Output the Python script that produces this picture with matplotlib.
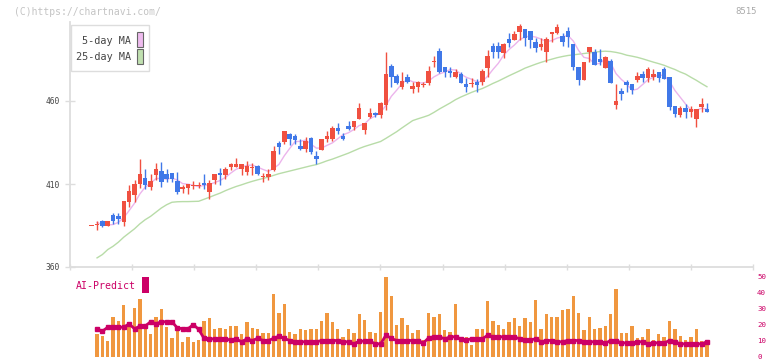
import numpy as np
import matplotlib.pyplot as plt
from matplotlib.patches import Rectangle

nan = np.nan

# daily prices (oldest first)
opens = [384.7, 385.1, 387.7, 384.9, 391.3, 390.7, 387.3, 399.3, 403.4, 409.8,
         413.4, 408.4, 415.4, 417.8, 416.0, 416.4, 411.8, 407.0, 407.4, 409.0,
         409.0, 410.4, 405.4, 412.4, 416.8, 415.4, 420.4, 420.4, 419.2, 417.4,
         419.6, 420.8, 414.4, 414.0, 418.4, 434.9, 435.5, 440.1, 438.9, 432.9,
         430.9, 437.5, 426.9, 430.5, 437.1, 437.1, 444.0, 438.9, 444.9, 444.5,
         449.3, 442.5, 450.5, 452.6, 451.8, 457.6, 481.1, 475.1, 468.6, 474.3,
         467.4, 468.6, 469.8, 471.0, 483.3, 490.3, 480.7, 478.1, 474.7, 476.3,
         470.2, 470.4, 471.6, 471.6, 480.0, 493.1, 493.1, 489.1, 497.3, 496.7,
         501.8, 503.4, 502.2, 495.4, 492.7, 489.7, 500.2, 501.2, 499.2, 502.2,
         494.3, 480.7, 472.7, 489.7, 489.3, 485.3, 480.1, 484.3, 457.6, 466.0,
         471.4, 470.2, 472.7, 476.0, 474.0, 474.5, 477.5, 479.3, 474.5, 457.0,
         451.6, 455.8, 453.6, 449.2, 456.6, 455.2]
highs = [384.7, 387.9, 388.5, 387.7, 392.3, 392.3, 400.0, 409.4, 412.4, 425.0,
         419.0, 415.8, 422.5, 423.4, 419.0, 416.4, 417.4, 409.4, 410.0, 411.8,
         411.0, 415.8, 412.4, 416.0, 419.5, 420.0, 422.8, 425.8, 422.0, 423.9,
         422.5, 421.4, 416.8, 419.0, 432.9, 436.1, 441.9, 440.9, 440.1, 436.9,
         438.1, 438.1, 429.9, 437.1, 442.1, 444.9, 446.9, 440.5, 448.1, 448.1,
         458.6, 446.9, 455.6, 453.5, 459.6, 489.5, 482.3, 476.3, 477.7, 476.3,
         471.6, 472.2, 471.6, 481.1, 487.1, 491.7, 480.7, 480.7, 479.0, 477.7,
         473.7, 473.7, 473.3, 479.3, 490.7, 494.7, 495.3, 495.0, 500.8, 502.2,
         506.4, 503.4, 502.2, 497.7, 497.7, 498.7, 501.4, 506.2, 500.8, 504.8,
         494.3, 480.7, 483.7, 492.3, 491.3, 491.3, 487.0, 485.3, 470.1, 467.6,
         472.7, 470.2, 477.3, 478.0, 480.7, 479.3, 477.5, 480.7, 474.5, 457.0,
         457.0, 458.2, 457.2, 455.2, 462.0, 458.6]
lows = [384.7, 382.0, 384.3, 384.9, 386.2, 386.2, 384.9, 396.3, 399.3, 407.4,
        407.0, 406.4, 412.4, 408.4, 411.0, 411.4, 404.0, 404.4, 404.0, 407.0,
        407.5, 407.0, 401.0, 410.0, 409.4, 413.0, 418.4, 420.4, 415.4, 415.4,
        415.4, 415.4, 411.4, 412.4, 418.0, 428.0, 434.1, 433.5, 434.1, 430.5,
        429.5, 428.0, 422.0, 430.5, 435.5, 436.1, 440.1, 436.5, 442.5, 442.5,
        449.0, 440.0, 449.6, 450.5, 450.0, 454.6, 468.6, 470.0, 467.0, 470.7,
        465.0, 465.6, 468.6, 469.6, 480.7, 476.7, 474.7, 474.7, 474.0, 470.7,
        465.6, 468.6, 465.6, 469.6, 474.7, 486.0, 485.7, 486.0, 492.3, 496.7,
        496.7, 492.9, 491.7, 489.3, 490.7, 483.7, 495.7, 500.2, 492.9, 492.3,
        478.7, 469.6, 472.7, 483.3, 481.7, 481.7, 480.1, 471.0, 455.2, 460.4,
        465.6, 464.4, 471.6, 471.6, 471.6, 472.7, 471.3, 473.1, 454.6, 450.5,
        450.5, 449.6, 450.5, 444.5, 453.6, 453.6]
closes = [384.7, 385.3, 384.9, 387.7, 387.9, 388.9, 399.8, 405.8, 409.8, 415.8,
          409.4, 411.8, 419.0, 411.4, 413.0, 413.0, 405.4, 408.0, 410.0, 409.4,
          409.4, 409.4, 410.4, 416.0, 415.4, 419.0, 422.0, 422.0, 422.0, 420.8,
          420.0, 416.0, 415.0, 416.0, 429.9, 432.1, 441.9, 437.1, 436.5, 430.9,
          436.1, 429.5, 425.0, 437.1, 438.9, 443.5, 442.0, 437.1, 443.1, 448.1,
          455.6, 446.9, 452.6, 451.8, 459.0, 476.3, 474.3, 471.0, 472.0, 471.6,
          469.0, 471.4, 470.2, 478.3, 483.9, 477.7, 477.3, 477.1, 477.7, 471.0,
          468.6, 471.0, 469.6, 478.1, 487.1, 489.3, 489.3, 494.3, 495.1, 500.4,
          505.2, 498.1, 496.7, 492.1, 494.3, 497.3, 501.4, 504.4, 495.8, 498.7,
          480.7, 472.7, 483.7, 492.3, 481.7, 483.3, 486.4, 471.0, 460.0, 464.4,
          469.6, 466.8, 475.0, 474.0, 479.3, 476.3, 474.0, 473.1, 456.6, 452.2,
          455.8, 453.4, 455.2, 455.2, 458.2, 453.6]

ma5 = [nan, 386.8, 385.5, 385.3, 385.6, 386.9, 389.8, 394.0, 398.4, 404.0,
       408.1, 410.5, 413.2, 413.5, 412.9, 413.6, 412.4, 410.2, 409.9, 409.2,
       408.4, 409.2, 409.7, 410.9, 412.1, 414.0, 416.6, 418.9, 420.1, 421.2,
       421.4, 420.2, 418.8, 417.6, 419.4, 421.8, 427.0, 431.4, 435.5, 435.7,
       436.5, 434.0, 431.6, 431.7, 433.3, 434.8, 437.3, 439.7, 440.9, 442.8,
       445.2, 446.2, 449.3, 451.0, 453.2, 457.3, 462.8, 466.5, 470.5, 473.0,
       471.6, 471.0, 470.8, 472.1, 474.6, 476.3, 477.5, 478.9, 478.7, 476.2,
       474.3, 473.1, 471.6, 471.7, 474.9, 479.0, 482.7, 487.6, 491.0, 493.7,
       496.9, 498.6, 499.1, 498.5, 497.3, 495.7, 496.4, 497.9, 498.6, 499.5,
       496.2, 490.5, 486.3, 485.6, 482.2, 482.7, 485.5, 482.9, 476.5, 473.0,
       470.3, 466.4, 467.2, 470.0, 472.9, 474.3, 475.7, 475.3, 471.9, 466.4,
       462.3, 458.2, 454.6, 454.4, 455.6, 455.1]
ma25 = [nan, 365.5, 367.5, 370.5, 372.5, 375.0, 378.0, 380.5, 383.0, 386.0,
        388.5, 390.5, 393.0, 395.5, 397.5, 399.0, 399.3, 399.4, 399.4, 399.5,
        399.6, 400.8, 402.0, 403.3, 404.5, 406.0, 407.3, 408.5, 409.5, 410.6,
        411.6, 412.5, 413.3, 414.2, 415.2, 416.2, 417.0, 417.8, 418.6, 419.4,
        420.2, 421.0, 421.7, 422.8, 424.0, 425.0, 426.2, 427.4, 428.6, 430.0,
        431.4, 432.6, 433.6, 434.6, 435.6, 437.5, 439.5, 441.5, 443.8, 446.0,
        448.2, 449.3, 450.3, 451.4, 453.2, 455.2, 457.0, 458.8, 460.8, 462.4,
        463.8, 465.2, 466.4, 467.5, 469.0, 470.6, 472.0, 473.6, 475.2, 476.7,
        478.2, 479.8, 481.0, 482.2, 483.3, 484.3, 485.2, 486.1, 486.8, 487.4,
        487.8, 488.2, 488.6, 489.0, 489.4, 489.8, 490.0, 489.8, 489.3, 488.6,
        487.6, 487.0, 486.3, 485.4, 484.4, 483.4, 482.5, 481.5, 480.2, 479.0,
        477.5, 476.2, 474.3, 472.5, 470.5, 468.6]

volume = [nan, 13.8, 13.1, 9.4, 24.4, 22.5, 32.3, 21.3, 30.6, 36.0,
          19.4, 14.2, 25.0, 29.8, 18.5, 11.3, 16.9, 8.8, 12.3, 8.8,
          10.6, 22.5, 23.8, 17.5, 18.1, 17.5, 18.8, 18.8, 13.8, 21.3,
          18.1, 16.9, 14.4, 15.0, 38.8, 27.5, 33.1, 15.6, 13.8, 16.9,
          16.3, 17.5, 16.9, 22.5, 26.9, 21.3, 16.9, 11.9, 16.9, 14.4,
          26.3, 22.7, 15.6, 15.0, 28.1, 49.8, 37.9, 19.4, 23.8, 19.4,
          15.0, 16.3, 10.6, 26.9, 24.4, 26.3, 16.3, 15.6, 33.1, 12.5,
          11.9, 7.5, 17.5, 17.5, 34.4, 22.5, 20.0, 17.5, 21.3, 23.8,
          18.8, 23.8, 21.3, 35.6, 17.5, 26.3, 24.4, 25.0, 28.8, 30.0,
          38.1, 26.9, 16.3, 24.4, 17.5, 18.1, 18.8, 26.3, 41.9, 14.4,
          15.0, 18.8, 11.3, 12.5, 17.5, 10.6, 13.8, 12.5, 21.9, 17.5,
          13.1, 10.6, 11.9, 16.9, 10.0, 9.4]
ai_predict = [nan, 17.3, 15.8, 18.3, 18.3, 18.3, 18.3, 20.4, 17.3, 19.0,
              19.0, 21.7, 20.4, 21.7, 21.7, 21.7, 17.9, 17.3, 17.3, 20.0,
              16.9, 11.3, 11.0, 11.0, 11.0, 11.0, 10.2, 11.0, 9.2, 11.0,
              10.0, 11.3, 10.0, 10.0, 11.3, 12.7, 11.3, 10.0, 9.2, 9.2,
              9.2, 9.2, 9.2, 10.0, 10.0, 10.0, 10.0, 9.2, 9.2, 7.9,
              9.6, 9.6, 9.6, 7.9, 7.9, 13.3, 11.3, 10.0, 10.0, 10.0,
              10.0, 10.0, 8.5, 11.7, 12.3, 12.3, 11.0, 12.3, 12.3, 11.0,
              10.4, 11.0, 11.0, 11.0, 13.3, 12.3, 12.3, 12.3, 12.3, 12.3,
              11.0, 10.4, 10.4, 11.0, 9.2, 10.0, 10.0, 9.2, 9.2, 10.0,
              10.0, 10.0, 9.2, 9.2, 9.2, 9.2, 8.3, 10.0, 10.0, 8.5,
              8.5, 8.5, 9.2, 9.2, 7.9, 8.5, 8.5, 8.5, 10.0, 9.2,
              7.9, 7.9, 7.9, 7.9, 7.9, 9.2]

date_labels = ['6/12', '6/26', '7/10', '7/25', '8/8', '8/25', '9/8', '9/24', '10/8', '10/23', '11/7']
price_ticks = [360, 410, 460]
ai_ticks = [0, 10, 20, 30, 40, 50]

UP, DOWN = '#f05040', '#4078e8'
GRID = '#dddddd'
MAGENTA = '#cc0066'

plt.rcParams['font.family'] = 'DejaVu Sans Mono'

W, H = 772, 361
fig = plt.figure(figsize=(W / 100, H / 100), dpi=100)


def px_axes(left, top, right, bottom):
    return fig.add_axes([left / W, 1 - bottom / H, (right - left) / W, (bottom - top) / H])


n = len(closes)
x = np.arange(n)
o, h, l, c = map(np.array, (opens, highs, lows, closes))
xlim = ((70 - 91.7) / 5.35, (753 - 91.7) / 5.35)

# price panel
ax = px_axes(70, 22, 753, 267)
ax.plot(x, ma25, color='#b8dca8', lw=1.0, zorder=1)
ax.plot(x, ma5, color='#ecb4ec', lw=1.0, zorder=1)
cols = np.where(c >= o, UP, DOWN)
ax.vlines(x, l, h, colors=cols, lw=1.0, zorder=2)
body_lo = np.minimum(o, c)
body_h = np.maximum(np.abs(c - o), 0.6)
ax.bar(x, body_h, bottom=body_lo, width=0.85, color=cols, linewidth=0, zorder=3)

ax.set_xlim(*xlim)
ax.set_ylim(360, 360 + 245 / 1.66)
for s in ('top', 'right'):
    ax.spines[s].set_visible(False)
for s in ('left', 'bottom'):
    ax.spines[s].set_color(GRID)
    ax.spines[s].set_linewidth(1.3)
ax.set_yticks(price_ticks)
ax.tick_params(axis='y', direction='inout', length=6.5, width=1, color=GRID,
               labelsize=5.7, labelcolor='#444444', pad=4)
ax.set_xticks(np.arange(15, n, 10))
ax.set_xticklabels(date_labels)
ax.tick_params(axis='x', which='major', length=0, pad=10, labelsize=6, labelcolor='#555555')
ax.set_xticks(np.linspace(xlim[0], xlim[1], 12), minor=True)
ax.tick_params(axis='x', which='minor', direction='inout', length=4.5, width=1, color=GRID)

# AI-Predict panel
ax2 = px_axes(70, 276.5, 753, 356.5)
ax2.bar(x, volume, width=0.62, color='#f0973f', linewidth=0, zorder=1)
ax2.plot(x, ai_predict, color=MAGENTA, lw=2.0, marker='s', ms=2.2, zorder=2)
ax2.set_xlim(*xlim)
ax2.set_ylim(0, 50)
for s in ax2.spines.values():
    s.set_visible(False)
ax2.set_xticks([])
ax2.yaxis.tick_right()
ax2.set_yticks(ai_ticks)
ax2.tick_params(axis='y', length=0, pad=3, labelsize=5.4, labelcolor=MAGENTA)

# overlay in pixel coordinates for header, legend and panel label
ov = fig.add_axes([0, 0, 1, 1])
ov.set_xlim(0, W)
ov.set_ylim(H, 0)
ov.axis('off')
ov.patch.set_alpha(0)

ov.text(14, 12, '(C)https://chartnavi.com/', fontsize=7, color='#c4c4c4', va='center', ha='left')
ov.text(757, 12, '8515', fontsize=6.5, color='#aaaaaa', va='center', ha='right')

ov.add_patch(Rectangle((70.5, 24.5), 78, 46.5, facecolor='white', edgecolor=GRID, lw=1))
ov.text(131, 41, '5-day MA', fontsize=7.3, color='#444444', va='center', ha='right')
ov.text(131, 57, '25-day MA', fontsize=7.3, color='#444444', va='center', ha='right')
ov.add_patch(Rectangle((136.5, 31.5), 6, 15, facecolor='#eebbee', edgecolor='#666666', lw=0.8))
ov.add_patch(Rectangle((136.5, 48.5), 6, 15, facecolor='#c0e0b0', edgecolor='#666666', lw=0.8))

ov.text(76, 286, 'AI-Predict', fontsize=7.1, color=MAGENTA, va='center', ha='left')
ov.add_patch(Rectangle((142, 277), 7, 16, facecolor=MAGENTA, edgecolor='none'))

fig.savefig('out.png', dpi=100)
